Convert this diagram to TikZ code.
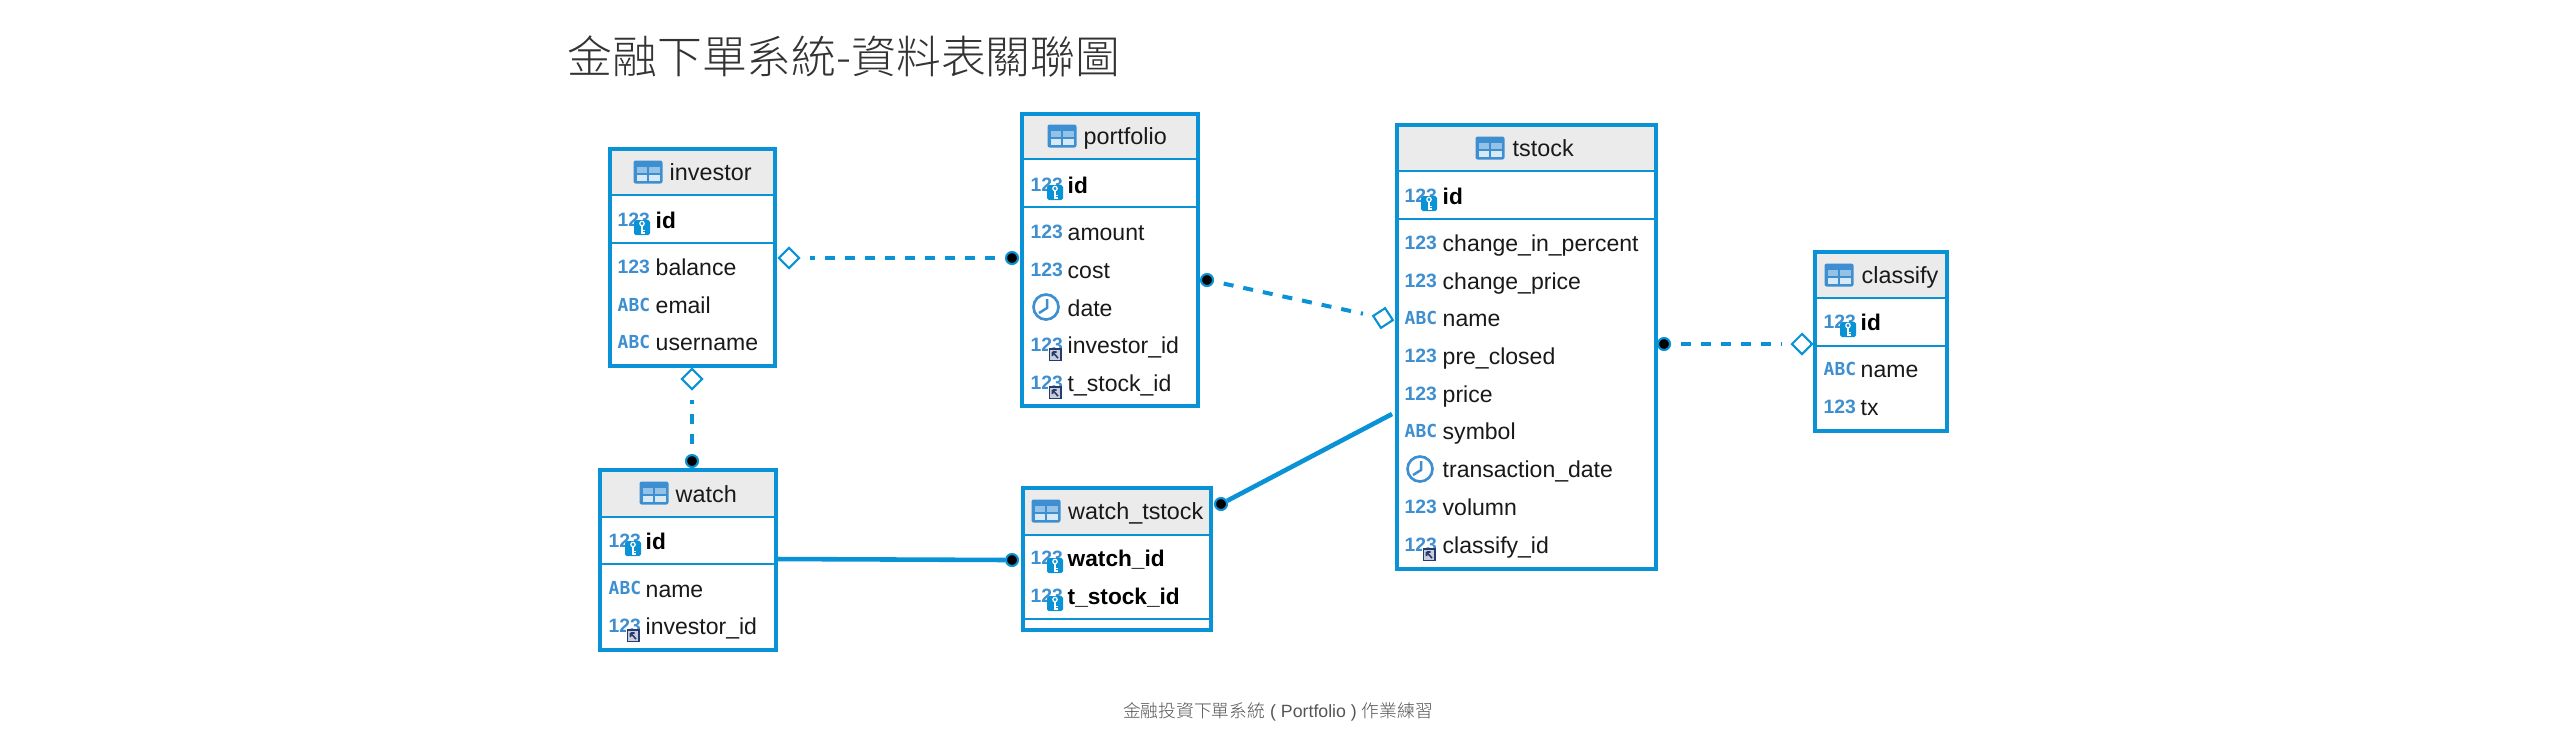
\documentclass[tikz,border=0pt]{standalone}
\usepackage{fontspec}
\setmainfont{Liberation Sans}
\newfontfamily\cjkfont{Noto Sans CJK TC}[UprightFont=* Light]
\newfontfamily\monofont{DejaVu Sans Mono}
\usetikzlibrary{shapes.geometric, calc}
\definecolor{erblue}{RGB}{9,146,213}
\definecolor{iconblue}{RGB}{61,143,209}
\definecolor{headgray}{RGB}{235,235,235}
\definecolor{fknavy}{RGB}{38,60,110}
\definecolor{titleink}{RGB}{51,51,51}
\definecolor{noteink}{RGB}{85,85,85}
\tikzset{
  tablebox/.style={draw=erblue, line width=1.14pt, rectangle, inner sep=0pt},
  seprule/.style={draw=erblue, line width=0.6pt},
  headtext/.style={anchor=base west, inner sep=0pt, font=\fontsize{6.65}{8}\selectfont, text=black!90},
  fieldtext/.style={anchor=base west, inner sep=0pt, xshift=-0.01cm, font=\fontsize{6.55}{8}\selectfont, text=black!90},
  keytext/.style={fieldtext, font=\fontsize{6.45}{8}\selectfont\bfseries, text=black},
  softlink/.style={draw=erblue, line width=1.14pt, dash pattern=on 2.85pt off 2.85pt, shorten <=0.1cm, shorten >=0.09cm},
  hardlink/.style={draw=erblue, line width=1.3pt},
  hollowend/.style={diamond, draw=erblue, fill=white, line width=0.6pt, inner sep=0pt, minimum width=0.21cm, minimum height=0.21cm, aspect=1},
  dotend/.style={circle, draw=erblue, fill=black, line width=0.6pt, inner sep=0pt, minimum size=0.12cm},
  tableicon/.pic={
    \fill[iconblue, rounded corners=0.6pt] (-0.145,0.115) rectangle (0.145,-0.115);
    \fill[iconblue!55!white] (-0.115,0.05) rectangle (-0.01,-0.01);
    \fill[iconblue!55!white] (0.01,0.05) rectangle (0.115,-0.01);
    \fill[iconblue!20!white] (-0.115,-0.03) rectangle (-0.01,-0.085);
    \fill[iconblue!20!white] (0.01,-0.03) rectangle (0.115,-0.085);
  },
  numicon/.pic={
    \node[inner sep=0pt, anchor=west, text=iconblue, font=\fontsize{5.5}{6}\selectfont\bfseries] (-num) at (0,0) {123};
  },
  abcicon/.pic={
    \node[inner sep=0pt, anchor=west, text=iconblue, font=\fontsize{5.1}{6}\monofont\bfseries] (-abc) at (0,0) {ABC};
  },
  clockicon/.pic={
    \draw[iconblue, line width=0.75pt] (0.16,0) circle (0.125);
    \draw[iconblue, line width=0.7pt] (0.17,0.08) -- (0.17,-0.01) -- (0.09,-0.06);
  },
  keybadge/.pic={
    \fill[erblue, rounded corners=0.5pt] (0.17,0) rectangle (0.33,-0.15);
    \draw[white, line width=0.35pt] (0.25,-0.035) circle (0.022);
    \draw[white, line width=0.4pt] (0.25,-0.06) -- (0.25,-0.135) (0.25,-0.105) -- (0.28,-0.105) (0.25,-0.13) -- (0.28,-0.13);
  },
  fkbadge/.pic={
    \fill[white] (0.18,-0.03) rectangle (0.32,-0.16);
    \draw[fknavy, fill=fknavy!25!white, line width=0.45pt] (0.195,-0.04) rectangle (0.31,-0.155);
    \draw[fknavy, line width=0.45pt] (0.225,-0.07) -- (0.28,-0.13) (0.225,-0.07) -- (0.225,-0.11) (0.225,-0.07) -- (0.265,-0.07);
  },
}
\begin{document}
\begin{tikzpicture}[xscale=1, yscale=-1]
  \useasboundingbox (0,0) rectangle (25.53,7.52);
  \fill[white] (0,0) rectangle (25.53,7.52);

  % Title and footnote
  \node[inner sep=0pt, anchor=base west, text=titleink, font=\fontsize{12.75}{14}\cjkfont] (maintitle) at (5.67,0.735) {金融下單系統-資料表關聯圖};
  \node[inner sep=0pt, text=noteink, font=\fontsize{5.05}{6}\selectfont] (footnote) at (12.78,7.12) {{\cjkfont 金融投資下單系統} ( Portfolio ) {\cjkfont 作業練習}};

  % investor
  \fill[headgray] (6.10,1.49) rectangle (7.75,1.95);
  \draw[seprule] (6.10,1.95) -- (7.75,1.95);
  \draw[seprule] (6.10,2.43) -- (7.75,2.43);
  \node[tablebox, minimum width=1.65cm, minimum height=2.17cm] (investor) at (6.925,2.575) {};
  \pic at (6.48,1.72) {tableicon};
  \node[headtext] (investor-name) at (6.69,1.80) {investor};
  \pic (inv-a) at (6.17,2.20) {numicon}; \pic at (6.17,2.20) {keybadge};
  \node[keytext] (investor-id) at (6.56,2.28) {id};
  \pic (inv-b) at (6.17,2.67) {numicon};
  \node[fieldtext] (investor-balance) at (6.56,2.75) {balance};
  \pic (inv-c) at (6.17,3.05) {abcicon};
  \node[fieldtext] (investor-email) at (6.56,3.13) {email};
  \pic (inv-d) at (6.17,3.42) {abcicon};
  \node[fieldtext] (investor-username) at (6.56,3.50) {username};

  % portfolio
  \fill[headgray] (10.22,1.14) rectangle (11.98,1.59);
  \draw[seprule] (10.22,1.59) -- (11.98,1.59);
  \draw[seprule] (10.22,2.07) -- (11.98,2.07);
  \node[tablebox, minimum width=1.76cm, minimum height=2.92cm] (portfolio) at (11.10,2.60) {};
  \pic at (10.62,1.36) {tableicon};
  \node[headtext] (portfolio-name) at (10.83,1.44) {portfolio};
  \pic (por-a) at (10.30,1.85) {numicon}; \pic at (10.30,1.85) {keybadge};
  \node[keytext] (portfolio-id) at (10.68,1.93) {id};
  \pic (por-b) at (10.30,2.32) {numicon};
  \node[fieldtext] (portfolio-amount) at (10.68,2.40) {amount};
  \pic (por-c) at (10.30,2.70) {numicon};
  \node[fieldtext] (portfolio-cost) at (10.68,2.78) {cost};
  \pic at (10.30,3.07) {clockicon};
  \node[fieldtext] (portfolio-date) at (10.68,3.16) {date};
  \pic (por-d) at (10.30,3.45) {numicon}; \pic at (10.30,3.45) {fkbadge};
  \node[fieldtext] (portfolio-investor) at (10.68,3.53) {investor\_id};
  \pic (por-e) at (10.30,3.83) {numicon}; \pic at (10.30,3.83) {fkbadge};
  \node[fieldtext] (portfolio-stock) at (10.68,3.91) {t\_stock\_id};

  % tstock
  \fill[headgray] (13.97,1.25) rectangle (16.56,1.71);
  \draw[seprule] (13.97,1.71) -- (16.56,1.71);
  \draw[seprule] (13.97,2.19) -- (16.56,2.19);
  \node[tablebox, minimum width=2.59cm, minimum height=4.44cm] (tstock) at (15.265,3.47) {};
  \pic at (14.90,1.48) {tableicon};
  \node[headtext] (tstock-name) at (15.12,1.56) {tstock};
  \pic (sto-a) at (14.04,1.96) {numicon}; \pic at (14.04,1.96) {keybadge};
  \node[keytext] (tstock-id) at (14.43,2.04) {id};
  \pic (sto-b) at (14.04,2.43) {numicon};
  \node[fieldtext] (tstock-percent) at (14.43,2.51) {change\_in\_percent};
  \pic (sto-c) at (14.04,2.81) {numicon};
  \node[fieldtext] (tstock-change) at (14.43,2.89) {change\_price};
  \pic (sto-d) at (14.04,3.18) {abcicon};
  \node[fieldtext] (tstock-title) at (14.43,3.26) {name};
  \pic (sto-e) at (14.04,3.56) {numicon};
  \node[fieldtext] (tstock-closed) at (14.43,3.64) {pre\_closed};
  \pic (sto-f) at (14.04,3.94) {numicon};
  \node[fieldtext] (tstock-price) at (14.43,4.02) {price};
  \pic (sto-g) at (14.04,4.31) {abcicon};
  \node[fieldtext] (tstock-symbol) at (14.43,4.39) {symbol};
  \pic at (14.04,4.69) {clockicon};
  \node[fieldtext] (tstock-date) at (14.43,4.77) {transaction\_date};
  \pic (sto-h) at (14.04,5.07) {numicon};
  \node[fieldtext] (tstock-volumn) at (14.43,5.15) {volumn};
  \pic (sto-i) at (14.04,5.45) {numicon}; \pic at (14.04,5.45) {fkbadge};
  \node[fieldtext] (tstock-classify) at (14.43,5.53) {classify\_id};

  % classify
  \fill[headgray] (18.15,2.52) rectangle (19.47,2.98);
  \draw[seprule] (18.15,2.98) -- (19.47,2.98);
  \draw[seprule] (18.15,3.46) -- (19.47,3.46);
  \node[tablebox, minimum width=1.32cm, minimum height=1.79cm] (classify) at (18.81,3.415) {};
  \pic at (18.39,2.75) {tableicon};
  \node[headtext] (classify-name) at (18.61,2.83) {classify};
  \pic (cla-a) at (18.23,3.22) {numicon}; \pic at (18.23,3.22) {keybadge};
  \node[keytext] (classify-id) at (18.61,3.30) {id};
  \pic (cla-b) at (18.23,3.69) {abcicon};
  \node[fieldtext] (classify-title) at (18.61,3.77) {name};
  \pic (cla-c) at (18.23,4.07) {numicon};
  \node[fieldtext] (classify-tx) at (18.61,4.15) {tx};

  % watch
  \fill[headgray] (6.00,4.70) rectangle (7.76,5.17);
  \draw[seprule] (6.00,5.17) -- (7.76,5.17);
  \draw[seprule] (6.00,5.64) -- (7.76,5.64);
  \node[tablebox, minimum width=1.76cm, minimum height=1.80cm] (watch) at (6.88,5.60) {};
  \pic at (6.54,4.93) {tableicon};
  \node[headtext] (watch-name) at (6.75,5.02) {watch};
  \pic (wat-a) at (6.08,5.41) {numicon}; \pic at (6.08,5.41) {keybadge};
  \node[keytext] (watch-id) at (6.46,5.49) {id};
  \pic (wat-b) at (6.08,5.88) {abcicon};
  \node[fieldtext] (watch-title) at (6.46,5.97) {name};
  \pic (wat-c) at (6.08,6.26) {numicon}; \pic at (6.08,6.26) {fkbadge};
  \node[fieldtext] (watch-investor) at (6.46,6.34) {investor\_id};

  % watch_tstock
  \fill[headgray] (10.23,4.88) rectangle (12.11,5.35);
  \draw[seprule] (10.23,5.35) -- (12.11,5.35);
  \draw[seprule] (10.23,6.19) -- (12.11,6.19);
  \node[tablebox, minimum width=1.88cm, minimum height=1.42cm] (watchstock) at (11.17,5.59) {};
  \pic at (10.46,5.11) {tableicon};
  \node[headtext] (watchstock-name) at (10.675,5.19) {watch\_tstock};
  \pic (wst-a) at (10.30,5.58) {numicon}; \pic at (10.30,5.58) {keybadge};
  \node[keytext] (watchstock-watch) at (10.68,5.66) {watch\_id};
  \pic (wst-b) at (10.30,5.96) {numicon}; \pic at (10.30,5.96) {keybadge};
  \node[keytext] (watchstock-stock) at (10.68,6.04) {t\_stock\_id};

  % Relationship ends
  \node[hollowend] (investor-right) at (7.89,2.58) {};
  \node[dotend] (portfolio-left) at (10.12,2.58) {};
  \node[hollowend] (investor-below) at (6.92,3.79) {};
  \node[dotend] (watch-top) at (6.92,4.61) {};
  \node[dotend] (portfolio-right) at (12.07,2.80) {};
  \node[hollowend, rotate=-12] (tstock-left) at (13.83,3.18) {};
  \node[dotend] (tstock-right) at (16.64,3.44) {};
  \node[hollowend] (classify-left) at (18.02,3.44) {};
  \node[dotend] (watchstock-left) at (10.12,5.60) {};
  \node[dotend] (watchstock-right) at (12.21,5.04) {};
  \coordinate (watch-edge) at (7.78,5.59);
  \coordinate (tstock-edge) at (13.92,4.14);

  % Relationships
  \draw[softlink] (portfolio-left) -- (investor-right);
  \draw[softlink] (watch-top) -- (investor-below);
  \draw[softlink] (portfolio-right) -- (tstock-left);
  \draw[softlink] (tstock-right) -- (classify-left);
  \draw[hardlink] (watch-edge) -- (watchstock-left);
  \draw[hardlink] (watchstock-right) -- (tstock-edge);
\end{tikzpicture}
\end{document}
